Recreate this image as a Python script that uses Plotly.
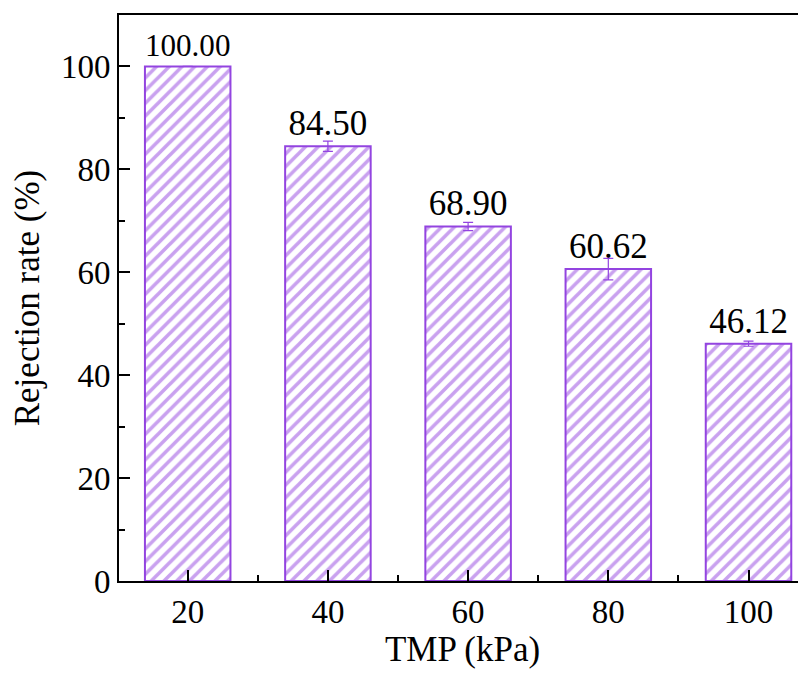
import plotly.graph_objects as go

categories = ["20", "40", "60", "80", "100"]
rejection = [100.00, 84.50, 68.90, 60.62, 46.12]
errors = [0.0, 1.0, 0.8, 2.1, 0.5]
labels = ["100.00", "84.50", "68.90", "60.62", "46.12"]

purple = "#9344e0"
font_family = "Liberation Serif"

xpos = list(range(len(categories)))

fig = go.Figure()
fig.add_trace(go.Bar(
    x=xpos,
    y=rejection,
    width=0.61,
    marker=dict(
        color="white",
        line=dict(color=purple, width=2),
        pattern=dict(shape="/", fgcolor=purple, bgcolor="white", size=9, solidity=0.4),
    ),
    error_y=dict(type="data", array=errors, visible=True, color=purple, thickness=1.2, width=5),
    text=labels,
    textposition="outside",
    textfont=dict(family=font_family, size=35, color="black"),
    cliponaxis=False,
    showlegend=False,
))

fig.update_layout(
    width=798,
    height=674,
    margin=dict(l=111, r=0, t=7, b=101),
    paper_bgcolor="white",
    plot_bgcolor="white",
    font=dict(family=font_family, color="black"),
)

fig.update_xaxes(
    automargin=False,
    range=[-0.49, 4.41],
    tickmode="array",
    tickvals=xpos,
    ticktext=categories,
    ticks="inside",
    ticklen=11,
    tickwidth=1.5,
    tickcolor="black",
    showline=True,
    linecolor="black",
    linewidth=2,
    mirror=True,
    showgrid=False,
    zeroline=False,
    tickfont=dict(family=font_family, size=33, color="black"),
    title=dict(text="TMP (kPa)", font=dict(family=font_family, size=35, color="black"), standoff=8),
    minor=dict(tickmode="array", tickvals=[0.5, 1.5, 2.5, 3.5], ticks="inside", ticklen=6, tickwidth=1.5, tickcolor="black"),
)

fig.update_yaxes(
    automargin=False,
    range=[0, 110],
    tickmode="linear",
    tick0=0,
    dtick=20,
    ticks="inside",
    ticklen=11,
    tickwidth=1.5,
    tickcolor="black",
    showline=True,
    linecolor="black",
    linewidth=2,
    mirror=False,
    showgrid=False,
    zeroline=False,
    tickfont=dict(family=font_family, size=33, color="black"),
    title=dict(text="Rejection rate (%)", font=dict(family=font_family, size=35, color="black"), standoff=14),
    minor=dict(tickmode="linear", tick0=10, dtick=20, ticks="inside", ticklen=6, tickwidth=1.5, tickcolor="black"),
)

fig.write_html("out.html")
